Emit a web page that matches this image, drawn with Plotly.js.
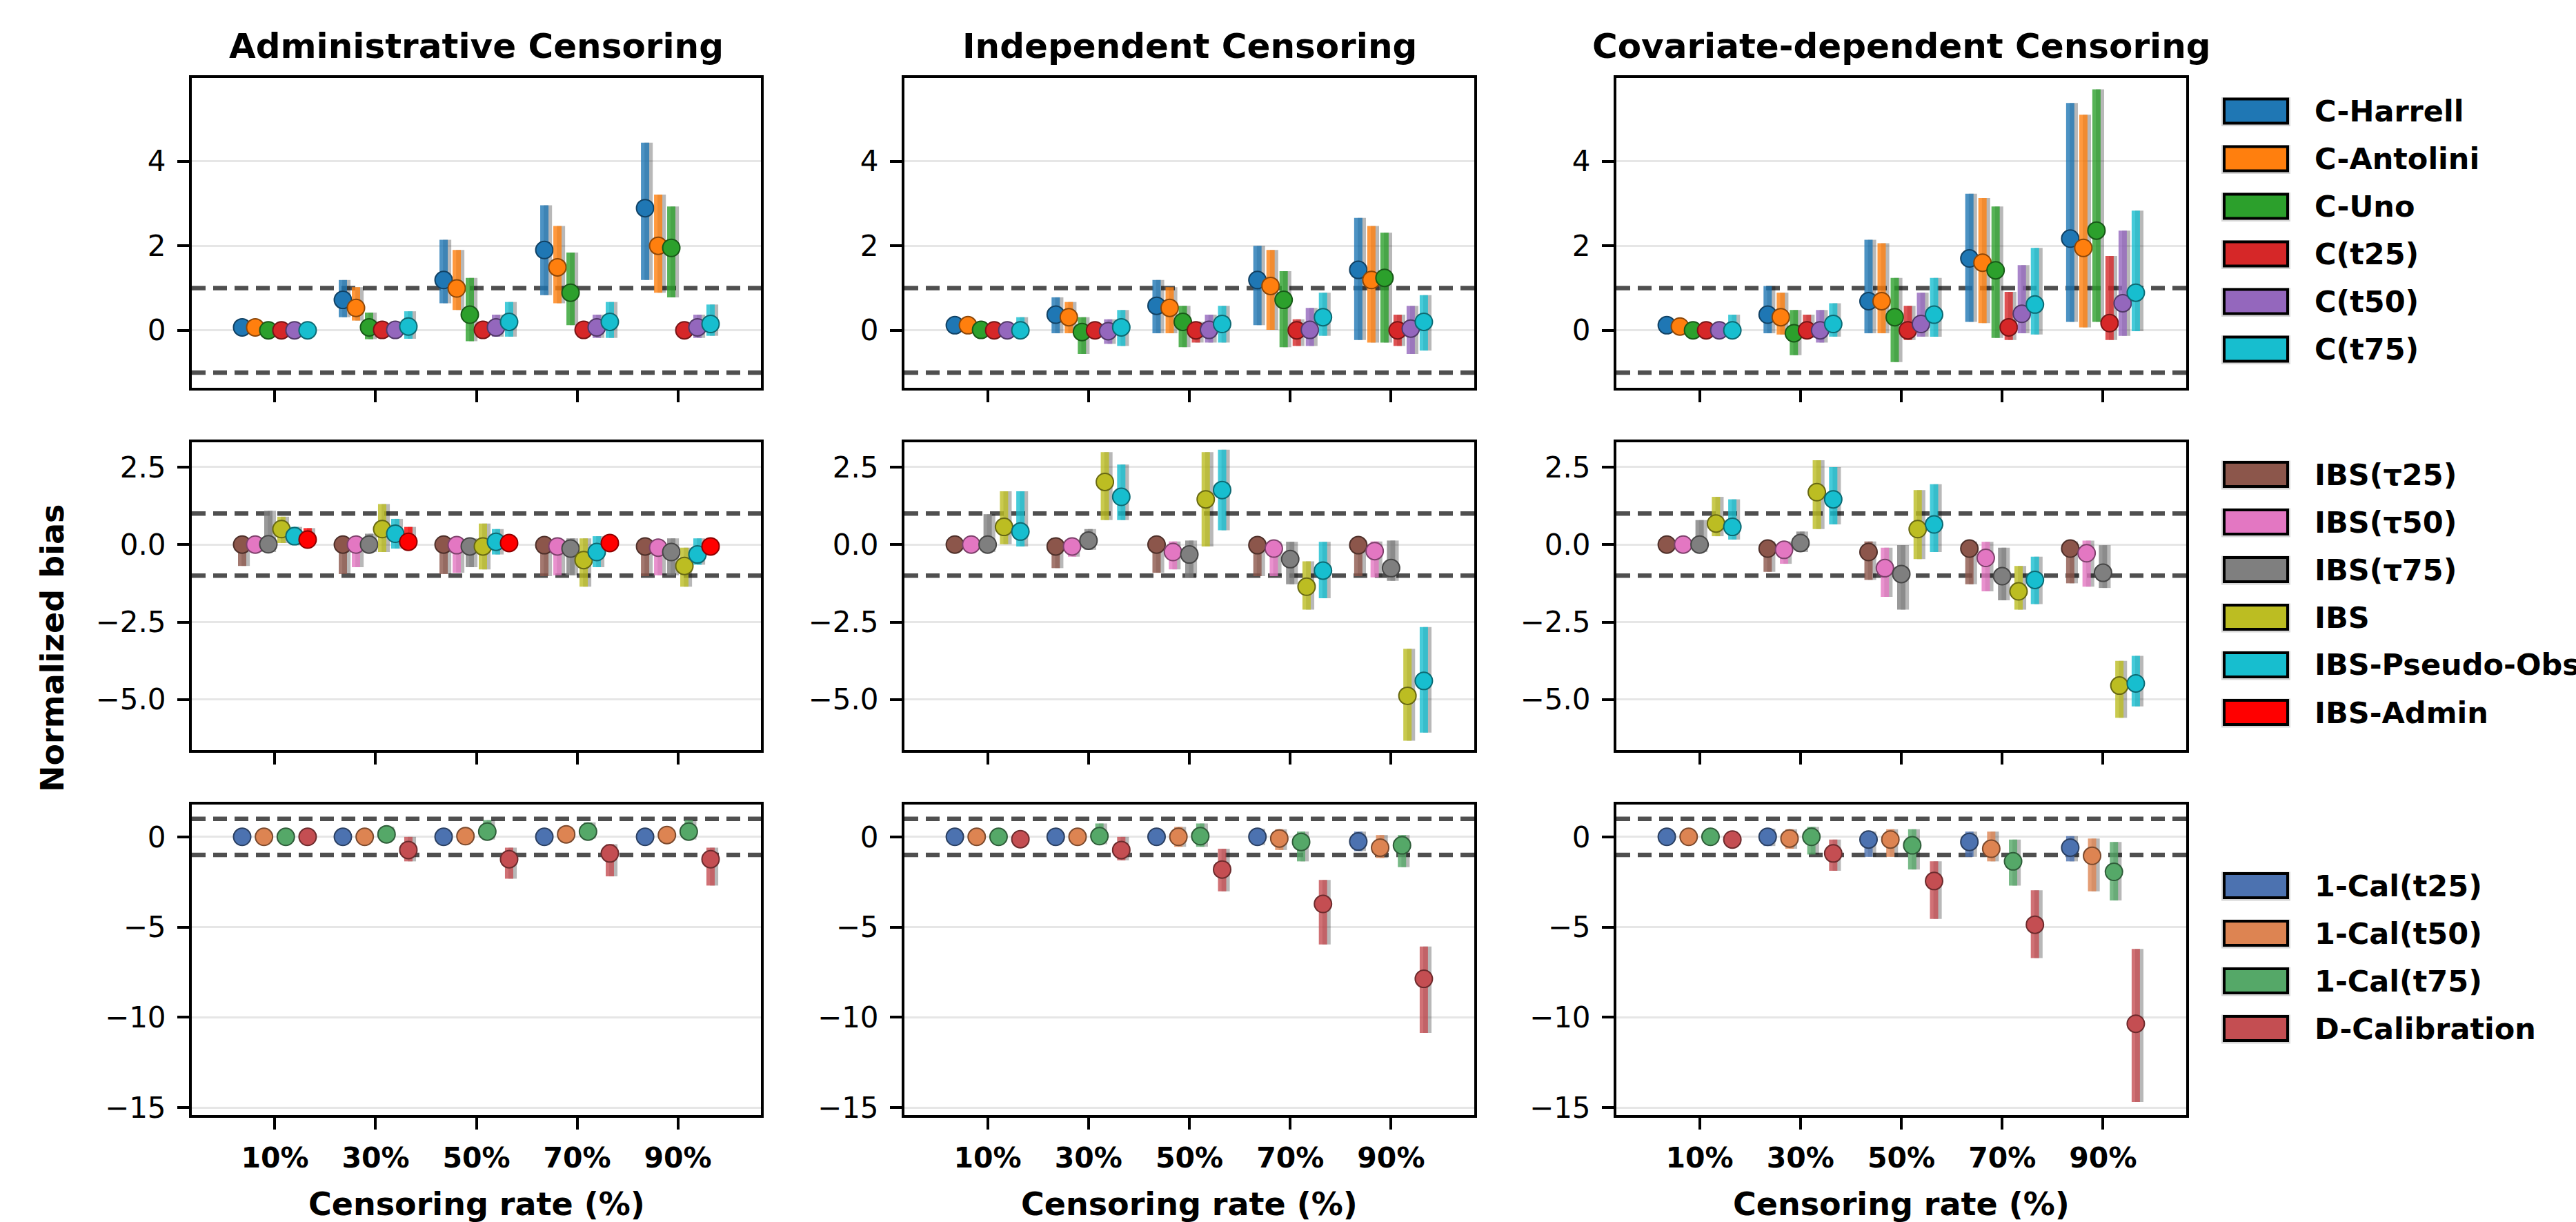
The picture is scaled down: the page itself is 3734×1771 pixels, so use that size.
<!DOCTYPE html>
<html><head><meta charset="utf-8">
<script src="https://cdn.plot.ly/plotly-3.0.1.min.js"></script>
<style>html,body{margin:0;padding:0;background:#fff}#chart{width:3734px;height:1771px}</style>
</head><body><div id="chart"></div>
<script>
const W = 3734, H = 1771;
const FONT = 'DejaVu Sans';

// ---------------- categories / names ----------------
const rates = ['10%', '30%', '50%', '70%', '90%'];
const scenarios = ['Administrative Censoring', 'Independent Censoring', 'Covariate-dependent Censoring'];
const discNames = ['C-Harrell', 'C-Antolini', 'C-Uno', 'C(t25)', 'C(t50)', 'C(t75)'];
const discColors = ['#1f77b4', '#ff7f0e', '#2ca02c', '#d62728', '#9467bd', '#17becf'];
const ibsNames = ['IBS(τ25)', 'IBS(τ50)', 'IBS(τ75)', 'IBS', 'IBS-Pseudo-Obs', 'IBS-Admin'];
const ibsColors = ['#8c564b', '#e377c2', '#7f7f7f', '#bcbd22', '#17becf', '#ff0000'];
const calNames = ['1-Cal(t25)', '1-Cal(t50)', '1-Cal(t75)', 'D-Calibration'];
const calColors = ['#4c72b0', '#dd8452', '#55a868', '#c44e52'];
const refBounds = [-1, 1];

// ---------------- discrimination (row 1) : [series][rate] ----------------
const discAdminMean = [[0.07,0.72,1.19,1.90,2.89],[0.07,0.53,0.99,1.49,2.00],[0.00,0.07,0.37,0.89,1.95],[0.00,0.01,0.01,0.01,0.00],[0.00,0.01,0.07,0.07,0.07],[0.00,0.09,0.20,0.20,0.15]];
const discAdminLo   = [[0.02,0.31,0.64,0.83,1.19],[0.02,0.23,0.48,0.64,0.89],[-0.04,-0.21,-0.26,0.12,0.78],[-0.03,-0.04,-0.05,-0.05,-0.05],[-0.03,-0.05,-0.15,-0.18,-0.18],[-0.03,-0.20,-0.15,-0.18,-0.13]];
const discAdminHi   = [[0.12,1.19,2.14,2.96,4.44],[0.12,1.02,1.90,2.47,3.21],[0.04,0.42,1.24,1.84,2.93],[0.03,0.05,0.05,0.05,0.05],[0.03,0.07,0.37,0.37,0.37],[0.04,0.45,0.67,0.67,0.61]];

const discIndepMean = [[0.12,0.37,0.58,1.19,1.43],[0.12,0.31,0.53,1.05,1.19],[0.01,-0.04,0.20,0.72,1.24],[0.00,0.00,0.00,0.00,0.00],[0.00,-0.02,0.01,0.01,0.04],[0.00,0.07,0.15,0.31,0.20]];
const discIndepLo   = [[0.06,-0.07,-0.07,0.12,-0.23],[0.06,-0.07,-0.07,0.01,-0.29],[-0.04,-0.56,-0.40,-0.40,-0.29],[-0.04,-0.05,-0.29,-0.37,-0.37],[-0.04,-0.32,-0.29,-0.37,-0.56],[-0.04,-0.37,-0.29,-0.13,-0.48]];
const discIndepHi   = [[0.18,0.78,1.19,2.00,2.66],[0.18,0.67,1.02,1.90,2.47],[0.06,0.31,0.58,1.40,2.31],[0.04,0.05,0.20,0.26,0.37],[0.04,0.26,0.37,0.53,0.58],[0.31,0.48,0.58,0.89,0.83]];

const discCovMean = [[0.12,0.37,0.69,1.70,2.17],[0.09,0.31,0.69,1.60,1.95],[0.00,-0.07,0.31,1.42,2.36],[0.00,0.00,0.00,0.07,0.17],[0.00,0.00,0.15,0.39,0.64],[0.00,0.15,0.37,0.61,0.89]];
const discCovLo   = [[0.06,-0.07,-0.07,0.20,0.20],[0.04,-0.10,-0.07,0.17,0.07],[-0.04,-0.59,-0.75,-0.18,0.20],[-0.04,-0.18,-0.23,-0.23,-0.23],[-0.04,-0.29,-0.15,-0.07,-0.13],[-0.04,-0.15,-0.15,-0.10,-0.02]];
const discCovHi   = [[0.18,1.05,2.14,3.23,5.38],[0.14,0.89,2.06,3.13,5.10],[0.04,0.48,1.24,2.93,5.70],[0.04,0.37,0.58,0.91,1.76],[0.04,0.48,0.89,1.54,2.36],[0.37,0.64,1.24,1.95,2.83]];

// ---------------- IBS (row 2) ----------------
const ibsAdminMean = [[0.00,0.00,0.00,-0.02,-0.06],[0.00,0.00,-0.02,-0.06,-0.10],[0.01,0.00,-0.06,-0.13,-0.24],[0.50,0.50,-0.06,-0.50,-0.69],[0.27,0.35,0.09,-0.24,-0.32],[0.16,0.09,0.05,0.05,-0.06]];
const ibsAdminLo   = [[-0.69,-0.95,-0.95,-1.02,-1.02],[-0.24,-0.73,-0.91,-0.99,-0.99],[-0.24,-0.24,-0.73,-0.99,-0.99],[0.05,-0.24,-0.80,-1.36,-1.36],[-0.02,-0.13,-0.32,-0.73,-0.65],[-0.02,-0.10,-0.05,-0.05,-0.20]];
const ibsAdminHi   = [[0.10,0.10,0.10,0.08,0.04],[0.10,0.10,0.08,0.04,0.00],[1.09,0.35,0.20,0.20,0.20],[0.90,1.31,0.68,0.20,-0.10],[0.57,0.83,0.50,0.27,0.20],[0.53,0.57,0.20,0.20,0.10]];

const ibsIndepMean = [[0.00,-0.06,0.00,-0.02,-0.02],[0.00,-0.06,-0.24,-0.13,-0.21],[0.00,0.13,-0.32,-0.47,-0.76],[0.57,2.02,1.46,-1.36,-4.88],[0.42,1.54,1.76,-0.84,-4.40]];
const ibsIndepLo   = [[-0.10,-0.76,-0.91,-1.02,-1.02],[-0.10,-0.39,-0.80,-1.02,-1.06],[-0.24,-0.17,-1.06,-1.28,-1.17],[0.01,0.79,-0.06,-2.10,-6.33],[-0.06,0.79,0.46,-1.73,-6.07]];
const ibsIndepHi   = [[0.10,0.10,0.10,0.10,0.10],[0.10,0.10,0.10,0.10,0.10],[0.98,0.50,0.13,0.09,0.13],[1.72,2.98,2.98,-0.54,-3.36],[1.72,2.58,3.06,0.09,-2.66]];

const ibsCovMean = [[0.00,-0.13,-0.24,-0.13,-0.13],[0.00,-0.17,-0.76,-0.43,-0.28],[0.00,0.05,-0.95,-1.02,-0.91],[0.68,1.69,0.50,-1.51,-4.55],[0.57,1.46,0.65,-1.14,-4.48]];
const ibsCovLo   = [[-0.10,-0.88,-1.14,-1.28,-1.25],[-0.10,-0.62,-1.69,-1.51,-1.36],[-0.24,-0.24,-2.10,-1.80,-1.40],[0.27,0.50,-0.47,-2.10,-5.59],[0.16,0.65,-0.24,-1.92,-5.22]];
const ibsCovHi   = [[0.10,0.10,0.10,0.10,0.10],[0.10,0.10,-0.10,0.09,0.13],[0.79,0.42,-0.02,-0.10,-0.02],[1.54,2.72,1.76,-0.69,-3.75],[1.46,2.50,1.95,-0.39,-3.59]];

// ---------------- calibration (row 3) ----------------
const calAdminMean = [[0.00,0.00,0.00,0.00,0.00],[0.00,0.00,0.04,0.14,0.10],[0.00,0.14,0.29,0.29,0.29],[0.00,-0.73,-1.24,-0.92,-1.24]];
const calAdminLo   = [[-0.10,-0.10,-0.10,-0.10,-0.10],[-0.10,-0.10,-0.06,0.04,0.00],[-0.10,-0.15,-0.15,-0.10,-0.15],[-0.10,-1.36,-2.32,-2.19,-2.70]];
const calAdminHi   = [[0.10,0.10,0.10,0.10,0.10],[0.10,0.10,0.14,0.24,0.20],[0.10,0.55,0.93,0.80,0.93],[0.10,0.00,-0.60,-0.41,-0.60]];

const calIndepMean = [[0.00,0.00,0.00,0.00,-0.26],[0.00,0.00,0.00,-0.09,-0.60],[0.00,0.04,0.04,-0.28,-0.47],[-0.13,-0.73,-1.81,-3.72,-7.87]];
const calIndepLo   = [[-0.10,-0.10,-0.10,-0.45,-0.79],[-0.10,-0.10,-0.55,-0.73,-1.17],[-0.10,-0.41,-0.55,-1.36,-1.68],[-0.30,-1.30,-3.02,-5.96,-10.87]];
const calIndepHi   = [[0.10,0.10,0.10,0.45,0.29],[0.10,0.10,0.55,0.42,0.10],[0.10,0.74,0.74,0.29,0.10],[0.05,0.00,-0.66,-2.39,-6.08]];

const calCovMean = [[0.00,0.00,-0.15,-0.28,-0.60],[0.00,-0.09,-0.15,-0.66,-1.05],[0.00,0.00,-0.47,-1.36,-1.94],[-0.15,-0.92,-2.45,-4.87,-10.36]];
const calCovLo   = [[-0.10,-0.51,-1.11,-1.11,-1.36],[-0.10,-0.66,-1.11,-1.36,-3.02],[-0.10,-0.98,-1.81,-2.70,-3.53],[-0.35,-1.88,-4.55,-6.72,-14.69]];
const calCovHi   = [[0.10,0.45,0.29,0.29,0.04],[0.10,0.42,0.42,0.29,-0.09],[0.10,0.55,0.42,-0.15,-0.28],[0.05,-0.15,-1.36,-2.96,-6.21]];

// ---------------- layout geometry (pixels) ----------------
const colsPx = [[278, 1103], [1311, 2137], [2343, 3169]];
const rowsPx = [[113, 562], [641, 1087], [1166, 1616]];
const yRanges = [[-1.36, 5.97], [-6.63, 3.30], [-15.42, 1.79]];
const yDticks = [2, 2.5, 5];
const yFormats = ['', '.1f', ''];
const xRange = [-0.825, 4.825];
const DODGE = 0.65;

const rowsSpec = [
  {names: discNames, colors: discColors, data: [[discAdminMean, discAdminLo, discAdminHi], [discIndepMean, discIndepLo, discIndepHi], [discCovMean, discCovLo, discCovHi]]},
  {names: ibsNames, colors: ibsColors, data: [[ibsAdminMean, ibsAdminLo, ibsAdminHi], [ibsIndepMean, ibsIndepLo, ibsIndepHi], [ibsCovMean, ibsCovLo, ibsCovHi]]},
  {names: calNames, colors: calColors, data: [[calAdminMean, calAdminLo, calAdminHi], [calIndepMean, calIndepLo, calIndepHi], [calCovMean, calCovLo, calCovHi]]}
];

function hexToRgb(h) { const n = parseInt(h.slice(1), 16); return [(n >> 16) & 255, (n >> 8) & 255, n & 255]; }
function rgba(h, a) { const c = hexToRgb(h); return `rgba(${c[0]},${c[1]},${c[2]},${a})`; }
function darker(h, f) { const c = hexToRgb(h).map(v => Math.round(v * f)); return `rgb(${c[0]},${c[1]},${c[2]})`; }

const traces = [];
const layout = {
  width: W, height: H, margin: {l: 0, r: 0, t: 0, b: 0},
  paper_bgcolor: '#ffffff', plot_bgcolor: '#ffffff',
  showlegend: false, font: {family: FONT, color: '#000'},
  shapes: [], annotations: []
};

for (let r = 0; r < 3; r++) {
  const spec = rowsSpec[r];
  for (let c = 0; c < 3; c++) {
    const idx = r * 3 + c + 1;
    const sfx = idx === 1 ? '' : String(idx);
    const [mean, lo, hi] = spec.data[c];
    const n = mean.length;
    for (let i = 0; i < n; i++) {
      const off = (i - (n - 1) / 2) * DODGE / (n - 1);
      const xs = rates.map((_, k) => k + off);
      const up = hi[i].map((v, k) => v - mean[i][k]);
      const dn = mean[i].map((v, k) => v - lo[i][k]);
      // shadow of the interval bar
      traces.push({
        type: 'scatter', mode: 'markers', xaxis: 'x' + sfx, yaxis: 'y' + sfx,
        x: xs.map(v => v + 0.035), y: mean[i], hoverinfo: 'skip',
        marker: {size: 1, color: 'rgba(0,0,0,0)'},
        error_y: {type: 'data', symmetric: false, array: up, arrayminus: dn, thickness: 12, width: 0, color: 'rgba(0,0,0,0.28)'}
      });
      traces.push({
        type: 'scatter', mode: 'markers', name: spec.names[i], xaxis: 'x' + sfx, yaxis: 'y' + sfx,
        x: xs, y: mean[i],
        marker: {size: 25, color: spec.colors[i], line: {color: darker(spec.colors[i], 0.55), width: 2}},
        error_y: {type: 'data', symmetric: false, array: up, arrayminus: dn, thickness: 12, width: 0, color: rgba(spec.colors[i], 0.8)}
      });
    }
    layout['xaxis' + sfx] = {
      domain: [colsPx[c][0] / W, colsPx[c][1] / W], range: xRange, anchor: 'y' + sfx,
      tickmode: 'array', tickvals: rates.map((_, k) => k), ticktext: rates,
      showticklabels: r === 2, ticks: 'outside', ticklen: 17, tickwidth: 4, tickcolor: '#000',
      showline: true, mirror: true, linewidth: 4, linecolor: '#000',
      showgrid: false, zeroline: false, fixedrange: true, ticklabelstandoff: 6,
      tickfont: {family: FONT, size: 41, weight: 'bold', color: '#000'}
    };
    layout['yaxis' + sfx] = {
      domain: [1 - rowsPx[r][1] / H, 1 - rowsPx[r][0] / H], range: yRanges[r], anchor: 'x' + sfx,
      tick0: 0, dtick: yDticks[r], tickformat: yFormats[r],
      ticks: 'outside', ticklen: 17, tickwidth: 4, tickcolor: '#000',
      showline: true, mirror: true, linewidth: 4, linecolor: '#000',
      showgrid: true, gridcolor: '#e6e6e6', gridwidth: 3, zeroline: false, fixedrange: true,
      ticklabelstandoff: 8,
      tickfont: {family: FONT, size: 42, color: '#000'}
    };
    refBounds.forEach(b => {
      layout.shapes.push({
        type: 'line', layer: 'below', xref: 'x' + sfx + ' domain', yref: 'y' + sfx,
        x0: 0, x1: 1, y0: b, y1: b, line: {color: '#4f4f4f', width: 6.5, dash: '20px,11px'}
      });
    });
  }
  // legend for the row
  const center = (rowsPx[r][0] + rowsPx[r][1]) / 2 - 4;
  const n = spec.names.length;
  spec.names.forEach((nm, i) => {
    const yc = center + (i - (n - 1) / 2) * 69;
    layout.shapes.push({type: 'rect', xref: 'paper', yref: 'paper', layer: 'above',
      x0: 3220 / W, x1: 3320 / W, y0: 1 - (yc + 22) / H, y1: 1 - (yc - 20) / H,
      fillcolor: '#d6d6d6', line: {width: 0}});
    layout.shapes.push({type: 'rect', xref: 'paper', yref: 'paper', layer: 'above',
      x0: 3224 / W, x1: 3316 / W, y0: 1 - (yc + 17.5) / H, y1: 1 - (yc - 17.5) / H,
      fillcolor: spec.colors[i], line: {color: '#000', width: 4}});
    layout.annotations.push({xref: 'paper', yref: 'paper', x: 3353 / W, y: 1 - yc / H,
      xanchor: 'left', yanchor: 'middle', showarrow: false, text: nm,
      font: {family: FONT, size: 43, weight: 'bold', color: '#000'}});
  });
}

// column titles and x-axis titles
scenarios.forEach((t, c) => {
  const xc = (colsPx[c][0] + colsPx[c][1]) / 2 / W;
  layout.annotations.push({xref: 'paper', yref: 'paper', x: xc, y: 1 - 67 / H, xanchor: 'center', yanchor: 'middle',
    showarrow: false, text: t, font: {family: FONT, size: 50, weight: 'bold', color: '#000'}});
  layout.annotations.push({xref: 'paper', yref: 'paper', x: xc, y: 1 - 1745 / H, xanchor: 'center', yanchor: 'middle',
    showarrow: false, text: 'Censoring rate (%)', font: {family: FONT, size: 46, weight: 'bold', color: '#000'}});
});
layout.annotations.push({xref: 'paper', yref: 'paper', x: 76 / W, y: 1 - 940 / H, xanchor: 'center', yanchor: 'middle',
  textangle: -90, showarrow: false, text: 'Normalized bias', font: {family: FONT, size: 46, weight: 'bold', color: '#000'}});

Plotly.newPlot('chart', traces, layout, {staticPlot: true, displayModeBar: false});
</script>
</body></html>
